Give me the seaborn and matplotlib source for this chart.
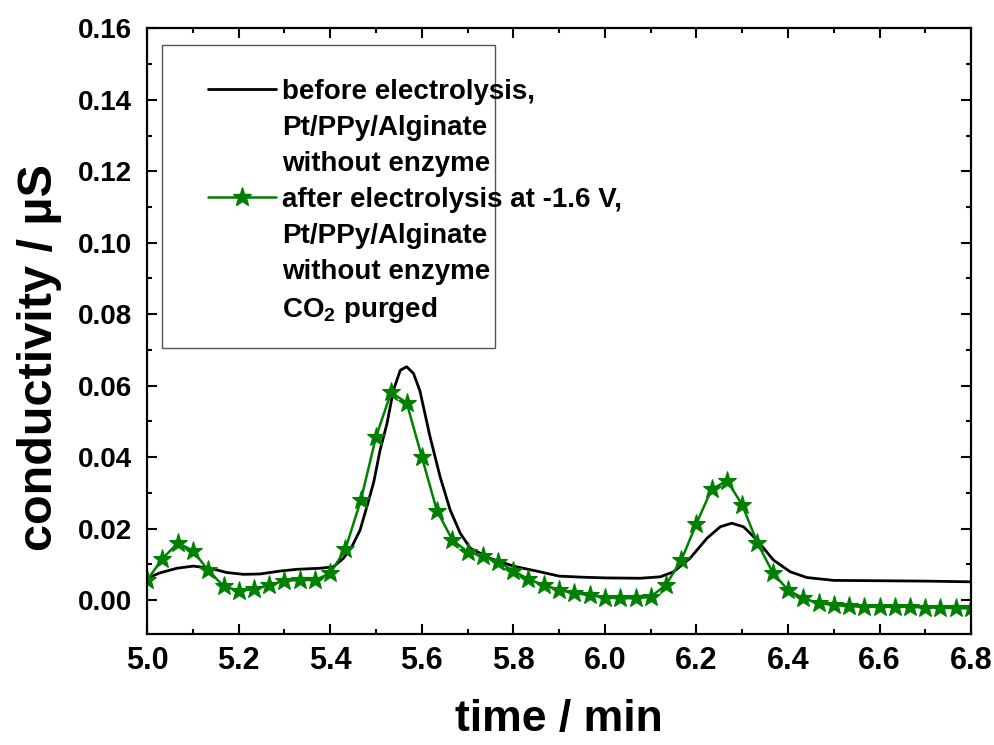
import matplotlib
matplotlib.use("Agg")
import matplotlib.pyplot as plt
from matplotlib.lines import Line2D
from matplotlib.patches import Rectangle
from matplotlib.ticker import MultipleLocator, FormatStrFormatter
import seaborn as sns
import pandas as pd

# black curve: before electrolysis
t_before = [5.000, 5.028, 5.065, 5.101, 5.138, 5.174, 5.210, 5.247, 5.290, 5.327,
            5.378, 5.407, 5.429, 5.447, 5.465, 5.480, 5.495, 5.509, 5.524, 5.538,
            5.553, 5.567, 5.582, 5.596, 5.618, 5.640, 5.662, 5.684, 5.706, 5.749,
            5.800, 5.858, 5.900, 5.950, 6.000, 6.077, 6.121, 6.150, 6.186, 6.223,
            6.252, 6.277, 6.303, 6.332, 6.368, 6.405, 6.441, 6.500, 6.600, 6.700,
            6.800]
c_before = [0.0061, 0.0076, 0.0089, 0.0095, 0.0089, 0.0077, 0.0072, 0.0073, 0.0081, 0.0086,
            0.0089, 0.0093, 0.0117, 0.0149, 0.0195, 0.0261, 0.0330, 0.0420, 0.0494, 0.0587,
            0.0643, 0.0653, 0.0634, 0.0585, 0.0457, 0.0345, 0.0252, 0.0187, 0.0145, 0.0117,
            0.0095, 0.0079, 0.0067, 0.0064, 0.0062, 0.0061, 0.0065, 0.0079, 0.0117, 0.0173,
            0.0205, 0.0215, 0.0205, 0.0168, 0.0112, 0.0079, 0.0063, 0.0055, 0.0054, 0.0053,
            0.0051]

# green curve: after electrolysis (one marker every 2 s)
t_after = [5.000, 5.033, 5.067, 5.100, 5.133, 5.167, 5.200, 5.233, 5.267, 5.300,
           5.333, 5.367, 5.400, 5.433, 5.467, 5.500, 5.533, 5.567, 5.600, 5.633,
           5.667, 5.700, 5.733, 5.767, 5.800, 5.833, 5.867, 5.900, 5.933, 5.967,
           6.000, 6.033, 6.067, 6.100, 6.133, 6.167, 6.200, 6.233, 6.267, 6.300,
           6.333, 6.367, 6.400, 6.433, 6.467, 6.500, 6.533, 6.567, 6.600, 6.633,
           6.667, 6.700, 6.733, 6.767, 6.800]
c_after = [0.0056, 0.0115, 0.0160, 0.0138, 0.0084, 0.0039, 0.0026, 0.0030, 0.0042, 0.0054,
           0.0056, 0.0056, 0.0075, 0.0142, 0.0280, 0.0457, 0.0581, 0.0552, 0.0401, 0.0250,
           0.0168, 0.0135, 0.0123, 0.0107, 0.0082, 0.0058, 0.0042, 0.0028, 0.0019, 0.0014,
           0.0007, 0.0005, 0.0005, 0.0009, 0.0042, 0.0112, 0.0214, 0.0310, 0.0334, 0.0266,
           0.0160, 0.0076, 0.0028, 0.0005, -0.0009, -0.0014, -0.0017, -0.0019, -0.0019, -0.0019,
           -0.0019, -0.0021, -0.0021, -0.0023, -0.0023]

label_before = ["before electrolysis,", "Pt/PPy/Alginate", "without enzyme"]
label_after = ["after electrolysis at -1.6 V,", "Pt/PPy/Alginate", "without enzyme",
               r"CO$_\mathbf{2}$ purged"]

sns.set_style("ticks")
plt.rcParams['font.family'] = ['Liberation Sans', 'DejaVu Sans']
plt.rcParams['font.weight'] = 'bold'
plt.rcParams['mathtext.fontset'] = 'custom'
plt.rcParams['mathtext.bf'] = 'Liberation Sans:bold'
plt.rcParams['mathtext.rm'] = 'Liberation Sans:bold'
for k in ['text.color', 'axes.labelcolor', 'xtick.color', 'ytick.color', 'axes.edgecolor']:
    plt.rcParams[k] = 'black'

df_b = pd.DataFrame({"t": t_before, "c": c_before})
df_a = pd.DataFrame({"t": t_after, "c": c_after})

fig = plt.figure(figsize=(9.94, 7.45), dpi=100)
ax = fig.add_axes([0.148, 0.149, 0.829, 0.813])

sns.lineplot(data=df_b, x="t", y="c", ax=ax, color="black", lw=2.0, sort=False)
sns.lineplot(data=df_a, x="t", y="c", ax=ax, color="#008000", lw=1.8, sort=False,
             marker="*", markersize=14, markeredgecolor="#008000", markeredgewidth=0.8)

ax.set_xlim(5.0, 6.8)
ax.set_ylim(-0.0095, 0.16)
ax.xaxis.set_major_locator(MultipleLocator(0.2))
ax.xaxis.set_minor_locator(MultipleLocator(0.1))
ax.yaxis.set_major_locator(MultipleLocator(0.02))
ax.yaxis.set_minor_locator(MultipleLocator(0.01))
ax.xaxis.set_major_formatter(FormatStrFormatter("%.1f"))
ax.yaxis.set_major_formatter(FormatStrFormatter("%.2f"))
ax.tick_params(which="both", direction="in", top=True, right=True, width=1.5)
ax.tick_params(which="major", length=7)
ax.tick_params(which="minor", length=3.5)
ax.tick_params(axis='x', which='major', pad=9)
ax.tick_params(axis='y', which='major', pad=11)
for s in ax.spines.values():
    s.set_linewidth(1.6)

for lab in ax.get_xticklabels():
    lab.set_fontsize(22)
    lab.set_fontweight('bold')
for lab in ax.get_yticklabels():
    lab.set_fontsize(20)
    lab.set_fontweight('bold')

ax.set_xlabel("time / min", fontsize=32, fontweight='bold', labelpad=16)
ax.set_ylabel("conductivity / µS", fontsize=35, fontweight='bold')
ax.yaxis.set_label_coords(-0.103, 0.457)

# legend frame (text overflows the box as in the original)
ax.add_patch(Rectangle((0.0182, 0.4719), 0.404, 0.5, transform=ax.transAxes,
                       fill=True, facecolor='white', edgecolor='#555555', lw=1.0, zorder=4))

blank = Line2D([], [], color='none')
h_b = Line2D([], [], color='black', lw=2.0)
h_a = Line2D([], [], color='#008000', lw=1.8, marker='*', markersize=14)
handles = [h_b, blank, blank, h_a, blank, blank, blank]
labels = label_before + label_after
leg = ax.legend(handles, labels, loc='upper left', bbox_to_anchor=(0.2093, 0.894),
                bbox_transform=fig.transFigure,
                prop={'weight': 'bold', 'size': 20}, frameon=False,
                handlelength=2.45, handletextpad=0.22,
                labelspacing=0.36, borderpad=0, borderaxespad=0)
leg.set_zorder(5)

fig.savefig("out.png", dpi=100)
